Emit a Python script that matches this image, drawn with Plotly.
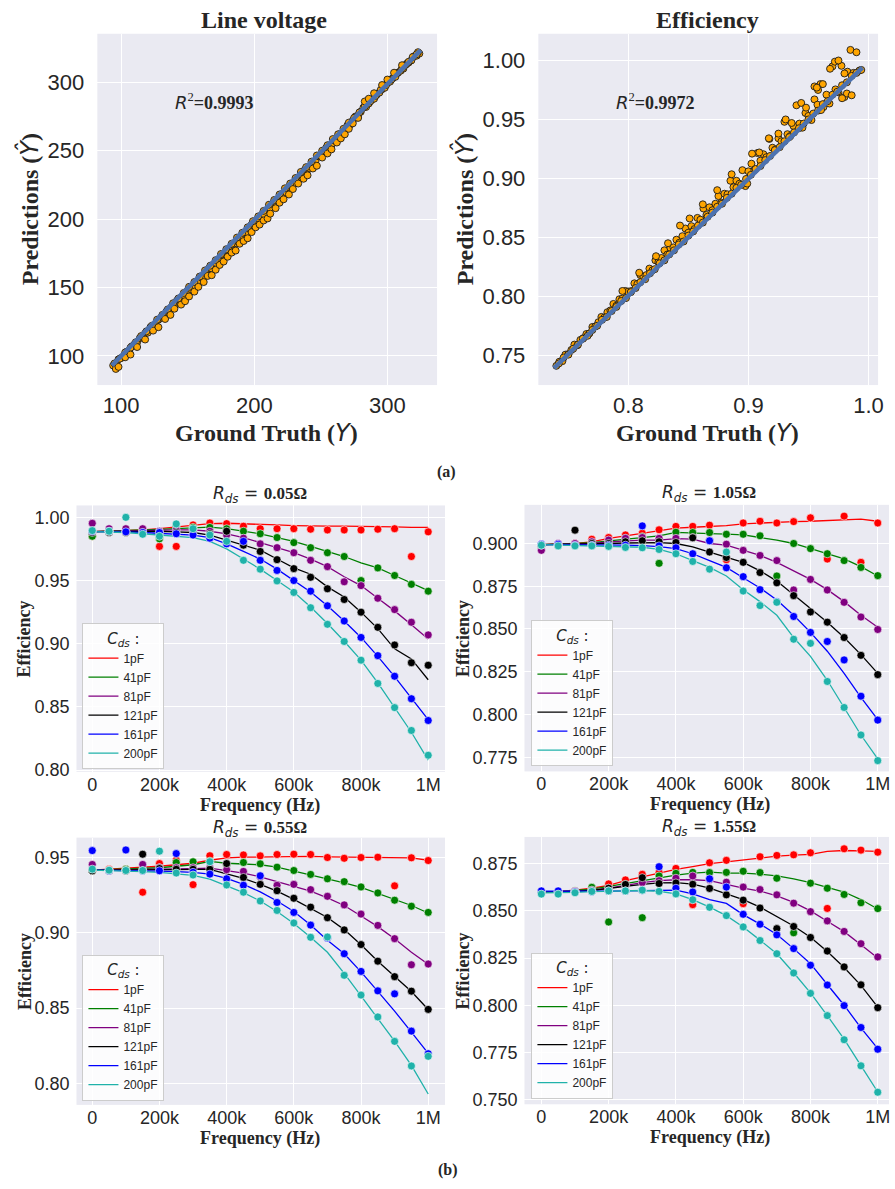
import plotly.graph_objects as go

W, H = 895, 1189

# ---------------- (a) prediction vs ground truth ----------------
# Line voltage: points close to the diagonal
LV_TRUE_A = [94, 96, 98, 100, 102, 104, 106, 108, 110, 112,
             114, 116, 118, 120, 122, 124, 126, 128, 130, 132,
             134, 136, 138, 140, 142, 144, 146, 148, 150, 152,
             154, 156, 158, 160, 162, 164, 166, 168, 170, 172,
             174, 176, 178, 180, 182, 184, 186, 188, 190, 192,
             194, 196, 198, 200, 202, 204, 206, 208, 210, 212,
             214, 216, 218, 220, 222, 224, 226, 228, 230, 232,
             234, 236, 238, 240, 242, 244, 246, 248, 250, 252,
             254, 256, 258, 260, 262, 264, 266, 268, 270, 272,
             274, 276, 278, 280, 282, 284, 286, 288, 290, 292,
             294, 296, 298, 300, 302, 304, 306, 308, 310, 312,
             314, 316, 318, 320, 322, 324]
LV_PRED_A = [93, 94, 97.5, 98.5, 100, 103, 103.5, 107, 108.5, 110,
             113, 113.5, 116.5, 117, 121, 122, 122.5, 126.5, 128, 129,
             132.5, 133, 136, 136, 140.5, 141, 143.5, 143.5, 148, 149,
             150, 154, 154.5, 157.5, 157, 161, 164, 164, 167, 167,
             171, 173.5, 174, 177, 176.5, 181.5, 182.5, 183.5, 187, 190,
             190, 193, 196, 195, 199, 200, 203.5, 202.5, 207, 208,
             211.5, 212.5, 213, 218, 219, 219.5, 223.5, 225, 226, 230,
             231, 231.5, 236, 237, 237, 241.5, 242.5, 246, 246, 249,
             252, 252.5, 254, 257.5, 259, 262, 262, 265, 268.5, 269,
             272, 275, 275.5, 278.5, 281.5, 282, 284.5, 287, 288, 291,
             292.5, 295, 296, 299.5, 300.5, 303, 304, 307, 308.5, 310,
             313, 314.5, 316, 319, 319.5, 321]
LV_TRUE_B = [95, 99, 103, 107, 111, 115, 119, 123, 127, 131,
             135, 139, 143, 147, 151, 155, 159, 163, 167, 171,
             175, 179, 183, 187, 191, 195, 199, 203, 207, 211,
             215, 219, 223, 227, 231, 235, 239, 243, 247, 251,
             255, 259, 263, 267, 271, 275, 279, 283, 287, 291,
             295, 299, 303, 307, 311, 315, 319, 323]
LV_PRED_B = [94.5, 98, 102.5, 106, 110, 114.5, 118, 122, 126.5, 130,
             134, 138.5, 142, 146, 150.5, 154, 158, 162.5, 166, 170,
             174.5, 178, 182, 186.5, 190, 194, 198.5, 202, 206, 210.5,
             214, 218, 222.5, 226, 230, 234.5, 238, 242, 246.5, 250,
             254, 258.5, 262, 266, 270.5, 274, 278, 282.5, 286, 290,
             294.5, 298, 302, 306.5, 310, 314, 318.5, 322]
# Line voltage: points further from the diagonal
LV_TRUE_C = [96, 98, 103, 107, 112, 118, 124, 128, 133, 137,
             140, 145, 148, 151, 155, 158, 162, 165, 168, 171,
             174, 177, 180, 183, 186, 189, 192, 195, 198, 201,
             204, 207, 210, 212, 216, 219, 222, 226, 229, 233,
             237, 240, 244, 247, 251, 255, 258, 262, 265, 268,
             271, 274, 278, 283, 286, 290, 296, 300, 305, 311,
             316, 322]
LV_PRED_C = [90.5, 92, 99, 101, 106.5, 112, 118.5, 121, 127, 130,
             134.5, 137.5, 140, 143.5, 147, 150.5, 154, 158.5, 159, 163,
             166.5, 169, 172.5, 175.5, 177, 182, 184, 186, 190.5, 194,
             196, 199, 200.5, 204, 208, 212, 214.5, 218, 222, 226,
             229.5, 232, 237, 239, 245, 248, 251, 256, 259, 262,
             266, 270, 274, 286, 288, 292, 298, 302, 307, 312.5,
             315, 320.5]
LV_FIT_X = [93.0, 325.0]
LV_FIT_Y = [93.0, 323.5]
LV_R2 = "0.9993"

# Efficiency
EFF_TRUE_A = [0.7400, 0.7425, 0.7450, 0.7475, 0.7500, 0.7525, 0.7550, 0.7575, 0.7600, 0.7625,
              0.7650, 0.7675, 0.7700, 0.7725, 0.7750, 0.7775, 0.7800, 0.7825, 0.7850, 0.7875,
              0.7900, 0.7925, 0.7950, 0.7975, 0.8000, 0.8025, 0.8050, 0.8075, 0.8100, 0.8125,
              0.8150, 0.8175, 0.8200, 0.8225, 0.8250, 0.8275, 0.8300, 0.8325, 0.8350, 0.8375,
              0.8400, 0.8425, 0.8450, 0.8475, 0.8500, 0.8525, 0.8550, 0.8575, 0.8600, 0.8625,
              0.8650, 0.8675, 0.8700, 0.8725, 0.8750, 0.8775, 0.8800, 0.8825, 0.8850, 0.8875,
              0.8900, 0.8925, 0.8950, 0.8975, 0.9000, 0.9025, 0.9050, 0.9075, 0.9100, 0.9125,
              0.9150, 0.9175, 0.9200, 0.9225, 0.9250, 0.9275, 0.9300, 0.9325, 0.9350, 0.9375,
              0.9400, 0.9425, 0.9450, 0.9475, 0.9500, 0.9525, 0.9550, 0.9575, 0.9600, 0.9625,
              0.9650, 0.9675, 0.9700, 0.9725, 0.9750, 0.9775, 0.9800, 0.9825, 0.9850, 0.9875,
              0.9900, 0.9925, 0.9940]
EFF_PRED_A = [0.7410, 0.7445, 0.7450, 0.7505, 0.7510, 0.7545, 0.7590, 0.7585, 0.7630, 0.7645,
              0.7680, 0.7685, 0.7740, 0.7745, 0.7780, 0.7825, 0.7820, 0.7865, 0.7880, 0.7935,
              0.7920, 0.7975, 0.7980, 0.8045, 0.8040, 0.8045, 0.8110, 0.8105, 0.8180, 0.8165,
              0.8180, 0.8235, 0.8220, 0.8305, 0.8290, 0.8325, 0.8390, 0.8355, 0.8410, 0.8415,
              0.8480, 0.8455, 0.8510, 0.8575, 0.8540, 0.8595, 0.8570, 0.8665, 0.8650, 0.8745,
              0.8690, 0.8755, 0.8730, 0.8785, 0.8850, 0.8795, 0.8870, 0.8865, 0.8980, 0.8925,
              0.8980, 0.8955, 0.9070, 0.8935, 0.9060, 0.9125, 0.9070, 0.9215, 0.9150, 0.9205,
              0.9180, 0.9335, 0.9260, 0.9245, 0.9340, 0.9315, 0.9480, 0.9375, 0.9360, 0.9445,
              0.9620, 0.9465, 0.9430, 0.9555, 0.9530, 0.9495, 0.9670, 0.9625, 0.9800, 0.9605,
              0.9710, 0.9635, 0.9950, 0.9755, 0.9730, 0.9955, 0.9690, 0.9905, 1.0090, 0.9895,
              1.0070, 0.9915, 0.9920]
EFF_TRUE_B = [0.742, 0.746, 0.750, 0.754, 0.758, 0.762, 0.766, 0.770, 0.774, 0.778,
              0.782, 0.786, 0.790, 0.794, 0.798, 0.802, 0.806, 0.810, 0.814, 0.818,
              0.822, 0.826, 0.830, 0.834, 0.838, 0.842, 0.846, 0.850, 0.854, 0.858,
              0.862, 0.866, 0.870, 0.874, 0.878, 0.882, 0.886, 0.890, 0.894, 0.898,
              0.902, 0.906, 0.910, 0.914, 0.918, 0.922, 0.926, 0.930, 0.934, 0.938,
              0.942, 0.946, 0.950, 0.954, 0.958, 0.962, 0.966, 0.970, 0.974, 0.978,
              0.982, 0.986, 0.990]
EFF_PRED_B = [0.743, 0.748, 0.7505, 0.7555, 0.759, 0.764, 0.7665, 0.7715, 0.775, 0.780,
              0.7825, 0.7875, 0.791, 0.796, 0.7985, 0.8035, 0.807, 0.812, 0.8145, 0.8195,
              0.823, 0.828, 0.8305, 0.8355, 0.839, 0.844, 0.8465, 0.8515, 0.855, 0.860,
              0.8625, 0.8675, 0.871, 0.876, 0.8785, 0.8835, 0.887, 0.892, 0.8945, 0.8995,
              0.903, 0.908, 0.9105, 0.9155, 0.919, 0.924, 0.9265, 0.9315, 0.935, 0.939,
              0.9425, 0.9465, 0.950, 0.955, 0.9575, 0.963, 0.9655, 0.971, 0.9735, 0.979,
              0.9815, 0.987, 0.9895]
EFF_TRUE_C = [0.972, 0.968, 0.962, 0.958, 0.955, 0.944, 0.931, 0.903, 0.899, 0.982,
              0.978, 0.975, 0.957, 0.9605, 0.948, 0.936, 0.925, 0.917, 0.909, 0.886,
              0.874, 0.862, 0.851, 0.843, 0.833, 0.823, 0.809, 0.795, 0.986, 0.980]
EFF_PRED_C = [0.999, 0.993, 0.980, 0.975, 0.978, 0.964, 0.950, 0.921, 0.8956, 0.972,
              0.968, 1.000, 0.977, 0.958, 0.960, 0.947, 0.938, 0.934, 0.922, 0.9035,
              0.890, 0.878, 0.866, 0.860, 0.845, 0.834, 0.820, 0.8045, 0.9705, 0.989]
EFF_FIT_X = [0.738, 0.995]
EFF_FIT_Y = [0.739, 0.994]
EFF_R2 = "0.9972"

# ---------------- (b) efficiency vs switching frequency ----------------
FREQ = [0, 50000, 100000, 150000, 200000, 250000, 300000, 350000, 400000, 450000,
        500000, 550000, 600000, 650000, 700000, 750000, 800000, 850000, 900000, 950000,
        1000000]
FREQ_TICKS = [0, 200000, 400000, 600000, 800000, 1000000]
FREQ_LABELS = ["0", "200k", "400k", "600k", "800k", "1M"]
CAPS = ["1pF", "41pF", "81pF", "121pF", "161pF", "200pF"]
COLORS = ["#FF0000", "#008000", "#800080", "#000000", "#0000FF", "#20B2AA"]

# R_ds = 0.05 ohm
MEAS_R005 = {
    "1pF":   [0.985, 0.989, 0.989, 0.990, 0.977, 0.977, 0.994, 0.9955, 0.995, 0.993, 0.991, 0.991, 0.991, 0.9906, 0.990, 0.990, 0.990, 0.9906, 0.991, 0.969, 0.9885],
    "41pF":  [0.985, 0.989, 0.989, 0.989, 0.983, 0.993, 0.992, 0.992, 0.991, 0.989, 0.987, 0.984, 0.980, 0.976, 0.972, 0.969, 0.950, 0.960, 0.954, 0.947, 0.9416],
    "81pF":  [0.9953, 0.991, 0.991, 0.991, 0.989, 0.990, 0.990, 0.989, 0.986, 0.9835, 0.979, 0.976, 0.972, 0.966, 0.961, 0.949, 0.946, 0.936, 0.927, 0.917, 0.907],
    "121pF": [0.988, 0.988, 0.988, 0.988, 0.988, 0.988, 0.987, 0.987, 0.989, 0.978, 0.973, 0.9665, 0.9594, 0.9526, 0.9435, 0.935, 0.925, 0.913, 0.899, 0.885, 0.883],
    "161pF": [0.989, 0.989, 0.9885, 0.988, 0.988, 0.987, 0.986, 0.9835, 0.979, 0.981, 0.966, 0.958, 0.950, 0.9416, 0.930, 0.918, 0.905, 0.8906, 0.8743, 0.8565, 0.8393],
    "200pF": [0.9895, 0.989, 1.000, 0.9866, 0.985, 0.9948, 0.991, 0.986, 0.981, 0.966, 0.959, 0.9497, 0.9406, 0.9285, 0.9154, 0.9018, 0.887, 0.8686, 0.8495, 0.8314, 0.8118],
}
FIT_R005 = {
    "1pF":   [0.9887, 0.989, 0.9895, 0.990, 0.991, 0.9925, 0.994, 0.995, 0.9953, 0.995, 0.9945, 0.994, 0.9935, 0.993, 0.993, 0.993, 0.993, 0.9928, 0.9925, 0.992, 0.992],
    "41pF":  [0.9887, 0.989, 0.9893, 0.990, 0.9905, 0.991, 0.992, 0.9922, 0.991, 0.989, 0.987, 0.984, 0.981, 0.977, 0.973, 0.969, 0.964, 0.960, 0.954, 0.948, 0.942],
    "81pF":  [0.9887, 0.989, 0.989, 0.9895, 0.990, 0.990, 0.990, 0.989, 0.987, 0.984, 0.980, 0.976, 0.972, 0.967, 0.961, 0.953, 0.946, 0.936, 0.926, 0.915, 0.9037],
    "121pF": [0.9887, 0.9888, 0.989, 0.989, 0.989, 0.9885, 0.988, 0.986, 0.982, 0.978, 0.974, 0.967, 0.960, 0.955, 0.945, 0.937, 0.925, 0.912, 0.896, 0.888, 0.8715],
    "161pF": [0.9887, 0.9887, 0.9885, 0.988, 0.9875, 0.987, 0.986, 0.984, 0.979, 0.973, 0.967, 0.959, 0.950, 0.941, 0.930, 0.918, 0.905, 0.890, 0.874, 0.857, 0.840],
    "200pF": [0.9887, 0.9885, 0.988, 0.987, 0.986, 0.985, 0.984, 0.981, 0.975, 0.967, 0.959, 0.950, 0.941, 0.929, 0.916, 0.902, 0.887, 0.869, 0.849, 0.830, 0.808],
}

# R_ds = 1.05 ohm
MEAS_R105 = {
    "1pF":   [0.899, 0.899, 0.900, 0.9025, 0.9035, 0.905, 0.906, 0.908, 0.910, 0.910, 0.9107, 0.8905, 0.912, 0.913, 0.912, 0.9128, 0.915, 0.8909, 0.916, 0.889, 0.912],
    "41pF":  [0.899, 0.899, 0.899, 0.900, 0.901, 0.903, 0.904, 0.8884, 0.9066, 0.9064, 0.9064, 0.9054, 0.9054, 0.9045, 0.881, 0.900, 0.897, 0.894, 0.890, 0.886, 0.8812],
    "81pF":  [0.896, 0.900, 0.900, 0.901, 0.902, 0.903, 0.9035, 0.903, 0.903, 0.9035, 0.9017, 0.8996, 0.896, 0.893, 0.890, 0.8728, 0.879, 0.8728, 0.8656, 0.857, 0.8497],
    "121pF": [0.899, 0.899, 0.9078, 0.900, 0.900, 0.901, 0.9016, 0.901, 0.9006, 0.9033, 0.895, 0.8918, 0.889, 0.883, 0.877, 0.8695, 0.860, 0.854, 0.845, 0.8346, 0.8233],
    "161pF": [0.8995, 0.8995, 0.899, 0.899, 0.899, 0.899, 0.9103, 0.8986, 0.8975, 0.894, 0.9016, 0.8858, 0.8806, 0.873, 0.866, 0.8573, 0.848, 0.8427, 0.8319, 0.8107, 0.7967],
    "200pF": [0.899, 0.8986, 0.8986, 0.8986, 0.8983, 0.8977, 0.8975, 0.8965, 0.894, 0.8895, 0.885, 0.895, 0.8722, 0.8637, 0.8656, 0.844, 0.8416, 0.8193, 0.8041, 0.788, 0.773],
}
FIT_R105 = {
    "1pF":   [0.8993, 0.8995, 0.900, 0.901, 0.903, 0.9045, 0.906, 0.9075, 0.909, 0.9095, 0.910, 0.9105, 0.9115, 0.912, 0.9125, 0.9128, 0.913, 0.9135, 0.914, 0.9143, 0.913],
    "41pF":  [0.8993, 0.8995, 0.900, 0.9005, 0.9015, 0.9025, 0.9035, 0.9045, 0.9065, 0.906, 0.9058, 0.9055, 0.905, 0.9035, 0.902, 0.900, 0.897, 0.894, 0.891, 0.8865, 0.881],
    "81pF":  [0.8993, 0.8995, 0.8998, 0.900, 0.901, 0.9015, 0.902, 0.902, 0.9028, 0.9025, 0.900, 0.899, 0.896, 0.893, 0.889, 0.884, 0.879, 0.873, 0.866, 0.858, 0.851],
    "121pF": [0.8993, 0.8994, 0.8996, 0.8998, 0.900, 0.9003, 0.9005, 0.9005, 0.900, 0.898, 0.895, 0.892, 0.889, 0.884, 0.878, 0.870, 0.862, 0.854, 0.845, 0.835, 0.824],
    "161pF": [0.8993, 0.8993, 0.8993, 0.8993, 0.8993, 0.899, 0.8988, 0.8982, 0.897, 0.894, 0.890, 0.886, 0.880, 0.874, 0.867, 0.858, 0.848, 0.837, 0.824, 0.810, 0.797],
    "200pF": [0.8993, 0.899, 0.8988, 0.8986, 0.8984, 0.898, 0.8978, 0.8965, 0.894, 0.890, 0.886, 0.881, 0.873, 0.866, 0.858, 0.845, 0.834, 0.820, 0.804, 0.788, 0.774],
}

# R_ds = 0.55 ohm
MEAS_R055 = {
    "1pF":   [0.941, 0.942, 0.942, 0.9268, 0.9458, 0.948, 0.9318, 0.951, 0.9518, 0.9515, 0.9509, 0.9518, 0.952, 0.9518, 0.9498, 0.9493, 0.9498, 0.950, 0.931, 0.9496, 0.9478],
    "41pF":  [0.941, 0.941, 0.942, 0.942, 0.943, 0.9465, 0.947, 0.9474, 0.945, 0.9465, 0.9456, 0.9434, 0.9412, 0.9386, 0.9357, 0.9338, 0.9303, 0.9263, 0.9215, 0.9175, 0.9134],
    "81pF":  [0.9452, 0.941, 0.941, 0.9452, 0.943, 0.943, 0.943, 0.943, 0.9417, 0.9406, 0.937, 0.9314, 0.932, 0.9285, 0.9241, 0.9184, 0.9123, 0.9048, 0.896, 0.8787, 0.8792],
    "121pF": [0.941, 0.941, 0.941, 0.952, 0.9425, 0.942, 0.942, 0.942, 0.9458, 0.9366, 0.932, 0.9278, 0.9228, 0.9169, 0.9099, 0.9018, 0.8921, 0.8811, 0.8708, 0.8612, 0.8491],
    "161pF": [0.9544, 0.941, 0.9548, 0.941, 0.941, 0.9524, 0.940, 0.9388, 0.9357, 0.9314, 0.9377, 0.920, 0.9134, 0.905, 0.8965, 0.886, 0.8743, 0.8614, 0.8594, 0.8347, 0.8197],
    "200pF": [0.9421, 0.9414, 0.9412, 0.9412, 0.954, 0.9395, 0.9382, 0.947, 0.9316, 0.9268, 0.921, 0.9147, 0.9064, 0.8969, 0.8971, 0.8717, 0.8586, 0.8441, 0.8279, 0.8116, 0.818],
}
FIT_R055 = {
    "1pF":   [0.9415, 0.942, 0.9425, 0.943, 0.944, 0.945, 0.946, 0.948, 0.9495, 0.950, 0.9502, 0.9505, 0.9505, 0.9505, 0.9502, 0.950, 0.9498, 0.9497, 0.9495, 0.9495, 0.948],
    "41pF":  [0.9415, 0.9418, 0.942, 0.9425, 0.943, 0.944, 0.945, 0.9472, 0.946, 0.9455, 0.945, 0.9435, 0.941, 0.9385, 0.936, 0.933, 0.930, 0.926, 0.922, 0.918, 0.913],
    "81pF":  [0.9415, 0.9416, 0.9418, 0.942, 0.9422, 0.9424, 0.9425, 0.9428, 0.941, 0.9395, 0.937, 0.934, 0.931, 0.9275, 0.923, 0.918, 0.911, 0.904, 0.896, 0.887, 0.879],
    "121pF": [0.9415, 0.9415, 0.9416, 0.9417, 0.9418, 0.9418, 0.942, 0.942, 0.939, 0.936, 0.932, 0.9275, 0.922, 0.916, 0.910, 0.902, 0.892, 0.881, 0.871, 0.861, 0.849],
    "161pF": [0.9415, 0.9414, 0.9412, 0.941, 0.9408, 0.9405, 0.940, 0.9388, 0.936, 0.932, 0.927, 0.921, 0.914, 0.905, 0.895, 0.886, 0.874, 0.861, 0.848, 0.834, 0.820],
    "200pF": [0.9415, 0.9413, 0.941, 0.9405, 0.940, 0.9392, 0.938, 0.9355, 0.931, 0.9265, 0.921, 0.914, 0.906, 0.897, 0.887, 0.873, 0.858, 0.843, 0.828, 0.812, 0.793],
}

# R_ds = 1.55 ohm
MEAS_R155 = {
    "1pF":   [0.8603, 0.8603, 0.860, 0.862, 0.8643, 0.8664, 0.8694, 0.8704, 0.8725, 0.8533, 0.8755, 0.8768, 0.8538, 0.8787, 0.8794, 0.8797, 0.8808, 0.8513, 0.8829, 0.8822, 0.8811],
    "41pF":  [0.860, 0.860, 0.8607, 0.8625, 0.8441, 0.864, 0.8464, 0.8685, 0.8699, 0.8704, 0.8703, 0.8704, 0.871, 0.8703, 0.8673, 0.8384, 0.8647, 0.862, 0.8587, 0.8543, 0.8512],
    "81pF":  [0.860, 0.860, 0.8605, 0.861, 0.862, 0.8635, 0.865, 0.866, 0.8673, 0.8685, 0.8665, 0.8652, 0.8626, 0.8613, 0.8585, 0.8541, 0.8496, 0.8447, 0.8391, 0.8326, 0.8256],
    "121pF": [0.860, 0.860, 0.8602, 0.8608, 0.862, 0.864, 0.8676, 0.8645, 0.8648, 0.8641, 0.8619, 0.8585, 0.8557, 0.8515, 0.8406, 0.8417, 0.8359, 0.8287, 0.8203, 0.8108, 0.7987],
    "161pF": [0.8606, 0.8606, 0.860, 0.8603, 0.8606, 0.8606, 0.861, 0.8734, 0.862, 0.860, 0.867, 0.8626, 0.8482, 0.8429, 0.8373, 0.830, 0.8212, 0.8107, 0.7998, 0.7882, 0.7767],
    "200pF": [0.8589, 0.8589, 0.8596, 0.8603, 0.8606, 0.8606, 0.861, 0.8603, 0.859, 0.8559, 0.8519, 0.8475, 0.8415, 0.8343, 0.8273, 0.8171, 0.8063, 0.7945, 0.7817, 0.7679, 0.7539],
}
FIT_R155 = {
    "1pF":   [0.860, 0.8603, 0.861, 0.862, 0.8635, 0.866, 0.868, 0.870, 0.872, 0.8735, 0.875, 0.876, 0.877, 0.878, 0.879, 0.8795, 0.880, 0.8815, 0.882, 0.8818, 0.8815],
    "41pF":  [0.860, 0.8602, 0.8608, 0.8615, 0.863, 0.8645, 0.866, 0.8675, 0.869, 0.870, 0.8705, 0.870, 0.870, 0.8695, 0.8685, 0.867, 0.865, 0.8625, 0.860, 0.856, 0.851],
    "81pF":  [0.860, 0.8601, 0.8605, 0.861, 0.862, 0.8635, 0.865, 0.866, 0.8665, 0.8665, 0.866, 0.864, 0.862, 0.8605, 0.858, 0.8545, 0.850, 0.8445, 0.839, 0.832, 0.825],
    "121pF": [0.860, 0.8601, 0.8603, 0.8608, 0.862, 0.863, 0.864, 0.8648, 0.865, 0.8642, 0.862, 0.859, 0.856, 0.852, 0.847, 0.842, 0.836, 0.8285, 0.820, 0.8105, 0.799],
    "161pF": [0.8605, 0.8604, 0.8603, 0.8603, 0.8604, 0.8606, 0.8608, 0.861, 0.861, 0.859, 0.856, 0.854, 0.848, 0.843, 0.8375, 0.830, 0.822, 0.811, 0.800, 0.788, 0.777],
    "200pF": [0.8595, 0.8595, 0.8598, 0.8602, 0.8605, 0.8606, 0.8608, 0.8604, 0.859, 0.856, 0.852, 0.8475, 0.8415, 0.8345, 0.8273, 0.8172, 0.8065, 0.7945, 0.782, 0.768, 0.754],
}

# ---------------- styling ----------------
BG = "#EAEAF2"
TXT = "#262626"
SANS = "Liberation Sans, Arial, sans-serif"
SERIF = "Liberation Serif, Times New Roman, serif"
MATH = "DejaVu Sans"


def px(x, y):
    """Pixel position on the page -> paper coordinates."""
    return x / W, 1 - y / H


def dom_x(a, b):
    return [a / W, b / W]


def dom_y(top, bottom):
    return [1 - bottom / H, 1 - top / H]


fig = go.Figure()

# ---- (a) scatter panels ----
for xs, ys, fx, fy, ax in [
    ((LV_TRUE_A, LV_TRUE_B, LV_TRUE_C), (LV_PRED_A, LV_PRED_B, LV_PRED_C), LV_FIT_X, LV_FIT_Y, ("x", "y")),
    ((EFF_TRUE_A, EFF_TRUE_B, EFF_TRUE_C), (EFF_PRED_A, EFF_PRED_B, EFF_PRED_C), EFF_FIT_X, EFF_FIT_Y, ("x2", "y2")),
]:
    for tx, ty in zip(xs, ys):
        fig.add_trace(go.Scatter(
            x=tx, y=ty, mode="markers", showlegend=False, hoverinfo="skip",
            marker=dict(size=7, color="#FFA500", line=dict(color="#1a1a1a", width=0.9)),
            xaxis=ax[0], yaxis=ax[1]))
    fig.add_trace(go.Scatter(
        x=fx, y=fy, mode="lines", showlegend=False, hoverinfo="skip",
        line=dict(color="#4C72B0", width=4.5), xaxis=ax[0], yaxis=ax[1]))

# ---- (b) frequency sweep panels ----
panels = [
    (MEAS_R005, FIT_R005, "x3", "y3", "legend"),
    (MEAS_R105, FIT_R105, "x4", "y4", "legend2"),
    (MEAS_R055, FIT_R055, "x5", "y5", "legend3"),
    (MEAS_R155, FIT_R155, "x6", "y6", "legend4"),
]
for meas, fit, xa, ya, lg in panels:
    for cap, col in zip(CAPS, COLORS):
        fig.add_trace(go.Scatter(
            x=FREQ, y=fit[cap], mode="lines", name=cap, legend=lg,
            line=dict(color=col, width=1.3), xaxis=xa, yaxis=ya))
    for cap, col in zip(CAPS, COLORS):
        fig.add_trace(go.Scatter(
            x=FREQ, y=meas[cap], mode="markers", showlegend=False, legend=lg,
            marker=dict(size=8, color=col, line=dict(color="white", width=0.6)),
            xaxis=xa, yaxis=ya))


def axis(domain, rng, anchor, tickvals, ticktext=None, fmt=None, size=18, standoff=6):
    d = dict(domain=domain, range=rng, anchor=anchor, tickvals=tickvals,
             showgrid=True, gridcolor="white", gridwidth=1.2, zeroline=False,
             showline=False, ticks="", ticklabelstandoff=standoff,
             tickfont=dict(family=SANS, size=size, color=TXT))
    if ticktext is not None:
        d["ticktext"] = ticktext
    if fmt is not None:
        d["tickformat"] = fmt
    return d


top_dom_y = dom_y(34, 388)
layout_axes = dict(
    xaxis=axis(dom_x(98, 440), [82.1, 337.3], "y", [100, 200, 300], size=22, standoff=5),
    yaxis=axis(top_dom_y, [78.7, 335.5], "x", [100, 150, 200, 250, 300], size=22, standoff=12),
    xaxis2=axis(dom_x(542, 884), [0.725, 1.008], "y2", [0.8, 0.9, 1.0], ["0.8", "0.9", "1.0"], size=22, standoff=5),
    yaxis2=axis(top_dom_y, [0.7247, 1.0227], "x2", [0.75, 0.80, 0.85, 0.90, 0.95, 1.00], fmt=".2f", size=22, standoff=12),
    xaxis3=axis(dom_x(77, 448), [-47000, 1050000], "y3", FREQ_TICKS, FREQ_LABELS, standoff=0),
    yaxis3=axis(dom_y(509.3, 777.7), [0.7987, 1.0094], "x3", [0.80, 0.85, 0.90, 0.95, 1.00], fmt=".2f"),
    xaxis4=axis(dom_x(528, 895), [-50200, 1033400], "y4", FREQ_TICKS, FREQ_LABELS, standoff=0),
    yaxis4=axis(dom_y(508.7, 777.3), [0.7667, 0.9226], "x4", [0.775, 0.800, 0.825, 0.850, 0.875, 0.900], fmt=".3f"),
    xaxis5=axis(dom_x(77, 448), [-47000, 1050000], "y5", FREQ_TICKS, FREQ_LABELS, standoff=0),
    yaxis5=axis(dom_y(844, 1113.3), [0.7858, 0.963], "x5", [0.80, 0.85, 0.90, 0.95], fmt=".2f"),
    xaxis6=axis(dom_x(528, 895), [-50200, 1033400], "y6", FREQ_TICKS, FREQ_LABELS, standoff=0),
    yaxis6=axis(dom_y(843.3, 1112.7), [0.7475, 0.8892], "x6", [0.750, 0.775, 0.800, 0.825, 0.850, 0.875], fmt=".3f"),
)


def legend_at(x, y_bottom):
    lx, ly = px(x, y_bottom)
    return dict(
        x=lx, y=ly, xanchor="left", yanchor="bottom",
        bgcolor="rgba(255,255,255,0.85)", bordercolor="#CCCCCC", borderwidth=1,
        font=dict(family=SANS, size=12, color=TXT), tracegroupgap=0,
        title=dict(text="<i>C</i><sub><i>ds</i></sub> :", side="top center",
                   font=dict(family=MATH, size=15, color=TXT)))


annotations = []


def label(text, x, y, size, family=SERIF, angle=0):
    ax_, ay_ = px(x, y)
    annotations.append(dict(
        text=text, x=ax_, y=ay_, xref="paper", yref="paper", showarrow=False,
        xanchor="center", yanchor="middle", textangle=angle,
        font=dict(family=family, size=size, color=TXT)))


def mspan(s):
    return f'<span style="font-family:{MATH}"><i>{s}</i></span>'


# (a) labels
label("<b>Line voltage</b>", 266, 20, 24)
label("<b>Efficiency</b>", 712, 20, 24)
for cx in (30, 468):
    label(f"<b>Predictions (</b>{mspan('Ŷ')}<b>)</b>", cx, 211, 24, angle=-90)
for cx in (268, 712):
    label(f"<b>Ground Truth (</b>{mspan('Y')}<b>)</b>", cx, 436, 24)
label(f"{mspan('R')}<sup>2</sup><b>={LV_R2}</b>", 216, 102, 18)
label(f"{mspan('R')}<sup>2</sup><b>={EFF_R2}</b>", 660, 102, 18)
label("<b>(a)</b>", 450, 476, 16)
label("<b>(b)</b>", 451, 1179, 16)

# (b) labels
for rds, cx, cy in [("0.05", 262, 498), ("1.05", 714, 497), ("0.55", 262, 835), ("1.55", 714, 834)]:
    label(f"{mspan('R')}<sub>{mspan('ds')}</sub>"
          f'<span style="font-family:{MATH}"> = </span><b>{rds}Ω</b>', cx, cy, 17)
for cx, cy in [(24.5, 644), (466, 643), (24.5, 979), (466, 978)]:
    label("<b>Efficiency</b>", cx, cy, 18, angle=-90)
for cx, cy in [(262, 812), (715, 811), (262, 1147), (715, 1146)]:
    label("<b>Frequency (Hz)</b>", cx, cy, 18)

fig.update_layout(
    width=W, height=H, margin=dict(l=0, r=0, t=0, b=0),
    paper_bgcolor="white", plot_bgcolor=BG,
    font=dict(family=SANS, color=TXT),
    legend=legend_at(83, 775), legend2=legend_at(535, 772),
    legend3=legend_at(83, 1109), legend4=legend_at(535, 1107),
    annotations=annotations,
    **layout_axes,
)

fig.write_html("out.html")
